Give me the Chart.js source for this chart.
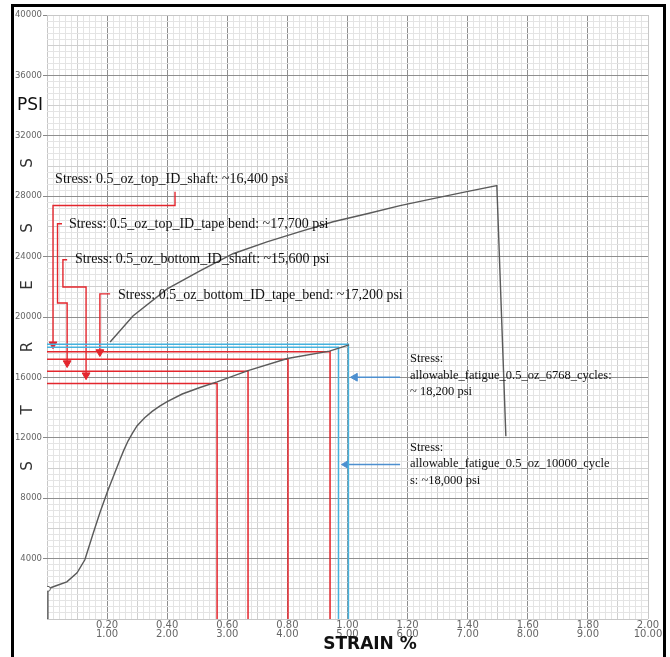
<!DOCTYPE html>
<html>
<head>
<meta charset="utf-8">
<script src="https://cdn.jsdelivr.net/npm/chart.js@4.4.0/dist/chart.umd.min.js"></script>
<style>
    html, body { margin: 0; padding: 0; background: #fff; }
    canvas { display: block; }
</style>
</head>
<body>
<canvas id="chart" width="670" height="657"></canvas>
<script>
// first pass of the trace (bottom curve)
const lowerStrain = [0, 0.003, 0.03, 0.066, 0.10, 0.126, 0.154, 0.176, 0.20, 0.226, 0.243, 0.255, 0.27, 0.285, 0.30, 0.325, 0.35, 0.375, 0.40, 0.45, 0.509, 0.566, 0.669, 0.80, 0.94, 1.005];
const lowerStress = [0, 2000, 2200, 2460, 3060, 3920, 5700, 7040, 8370, 9700, 10560, 11150, 11800, 12330, 12800, 13330, 13750, 14100, 14400, 14900, 15330, 15700, 16450, 17250, 17740, 18150];

// second pass of the trace, ending with the break
const upperStrain = [0.21, 0.286, 0.40, 0.509, 0.619, 0.732, 0.842, 0.952, 1.065, 1.175, 1.285, 1.397, 1.497, 1.527];
const upperStress = [18340, 20070, 21860, 23060, 24190, 24980, 25650, 26310, 26840, 27380, 27840, 28300, 28700, 12100];

// tick labels
const strainTopLabels = ["0.20", "0.40", "0.60", "0.80", "1.00", "1.20", "1.40", "1.60", "1.80", "2.00"];
const strainBottomLabels = ["1.00", "2.00", "3.00", "4.00", "5.00", "6.00", "7.00", "8.00", "9.00", "10.00"];
const stressLabels = ["4000", "8000", "12000", "16000", "20000", "24000", "28000", "32000", "36000", "40000"];

// red read-offs (stress level, strain where it meets the curve)
const redLabels = [
    "Stress: 0.5_oz_top_ID_shaft: ~16,400 psi",
    "Stress: 0.5_oz_top_ID_tape bend: ~17,700 psi",
    "Stress: 0.5_oz_bottom_ID_shaft: ~15,600 psi",
    "Stress: 0.5_oz_bottom_ID_tape_bend: ~17,200 psi",
];
const redStress = [16400, 17700, 15600, 17200];
const redStrain = [0.669, 0.942, 0.566, 0.802];

// blue fatigue limits
const blueLabels = [
    ["Stress:", "allowable_fatigue_0.5_oz_6768_cycles:", "~ 18,200 psi"],
    ["Stress:", "allowable_fatigue_0.5_oz_10000_cycle", "s: ~18,000 psi"],
];
const blueStress = [18200, 18000];
const blueStrain = [1.003, 0.97];

// callout paths in chart units (strain, psi); last point carries the arrow head
const redCallouts = [
    [[0.426, 28300], [0.426, 27380], [0.020, 27380], [0.020, 18200]],
    [[0.050, 26180], [0.035, 26180], [0.035, 20930], [0.067, 20930], [0.067, 16950]],
    [[0.067, 23790], [0.053, 23790], [0.053, 21990], [0.130, 21990], [0.130, 16150]],
    [[0.210, 21530], [0.176, 21530], [0.176, 17680]],
];
const redLabelAt = [[0.027, 29100], [0.073, 26110], [0.093, 23790], [0.236, 21460]];
const blueCallouts = [
    [[1.175, 16010], [1.025, 16010]],
    [[1.175, 10230], [0.995, 10230]],
];
const blueLabelAt = [[1.208, 17210], [1.208, 11360]];

const RED = "#e3262d";
const BLUE = "#45b2de";
const BLUE_ARROW = "#4d8fcf";
const CURVE = "#5a5a5a";

const toPoints = (xs, ys) => xs.map((x, i) => ({ x: x, y: ys[i] }));
const pathPoints = (p) => p.map(([x, y]) => ({ x: x, y: y }));

const datasets = [];

datasets.push({
    data: toPoints(lowerStrain, lowerStress),
    borderColor: CURVE,
    borderWidth: 1.4,
    pointRadius: (c) => (c.dataIndex === 1 ? 2.5 : 0),
    pointBorderColor: CURVE,
    pointBackgroundColor: "#fff",
    pointBorderWidth: 1,
    order: 0,
});
datasets.push({
    data: toPoints(upperStrain, upperStress),
    borderColor: CURVE,
    borderWidth: 1.4,
    pointRadius: 0,
    order: 0,
});

redStress.forEach((s, i) => {
    datasets.push({
        data: [{ x: 0, y: s }, { x: redStrain[i], y: s }, { x: redStrain[i], y: 0 }],
        borderColor: RED,
        borderWidth: 1.5,
        pointRadius: 0,
        order: 2,
    });
});
blueStress.forEach((s, i) => {
    datasets.push({
        data: [{ x: 0, y: s }, { x: blueStrain[i], y: s }, { x: blueStrain[i], y: 0 }],
        borderColor: BLUE,
        borderWidth: 1.5,
        pointRadius: 0,
        order: 1,
    });
});

function arrowSet(path, color, rotation) {
    const n = path.length;
    return {
        data: pathPoints(path),
        borderColor: color,
        borderWidth: 1.4,
        pointStyle: "triangle",
        pointRotation: rotation,
        pointRadius: (c) => (c.dataIndex === n - 1 ? 4.5 : 0),
        pointBackgroundColor: color,
        pointBorderColor: color,
        pointBorderWidth: 1,
        order: 3,
    };
}
redCallouts.forEach((p) => datasets.push(arrowSet(p, RED, 180)));
blueCallouts.forEach((p) => datasets.push(arrowSet(p, BLUE_ARROW, 270)));

function gridColor(c) {
    const i = c.index;
    if (i === 0 || i === 100) return "#c8c8c8";
    if (i % 10 === 0) return "#8e8e8e";
    if (i % 5 === 0) return "#cfcfcf";
    return "#e4e4e4";
}

const textPlugin = {
    id: "texts",
    afterDatasetsDraw(chart) {
        const { ctx, scales } = chart;
        const px = (v) => scales.x.getPixelForValue(v);
        const py = (v) => scales.y.getPixelForValue(v);
        ctx.save();
        ctx.fillStyle = "#111";
        ctx.textAlign = "left";
        ctx.textBaseline = "middle";
        ctx.font = '14px "Liberation Serif"';
        redLabels.forEach((t, i) => {
            ctx.fillText(t, px(redLabelAt[i][0]), py(redLabelAt[i][1]));
        });
        ctx.font = '12.5px "Liberation Serif"';
        blueLabels.forEach((lines, i) => {
            const x = px(blueLabelAt[i][0]);
            const y0 = py(blueLabelAt[i][1]);
            lines.forEach((t, k) => ctx.fillText(t, x, y0 + k * 16.5));
        });
        ctx.restore();
    },
    afterDraw(chart) {
        const { ctx } = chart;
        ctx.save();
        // axis titles
        ctx.fillStyle = "#111";
        ctx.textAlign = "center";
        ctx.textBaseline = "middle";
        ctx.font = '17px "DejaVu Sans"';
        ctx.fillText("PSI", 30, 106);
        ctx.font = 'bold 17px "DejaVu Sans"';
        ctx.fillText("STRAIN %", 370, 645);
        ctx.fillStyle = "#333";
        ctx.font = '15px "DejaVu Sans"';
        const letters = ["S", "T", "R", "E", "S", "S"];
        const ys = [466, 410, 347, 285, 228, 163];
        letters.forEach((l, i) => {
            ctx.save();
            ctx.translate(28, ys[i]);
            ctx.rotate(-Math.PI / 2);
            ctx.fillText(l, 0, 0);
            ctx.restore();
        });
        // frame
        ctx.fillStyle = "#000";
        ctx.fillRect(11, 4, 3, chart.height - 4);
        ctx.fillRect(11, 4, 655, 3);
        ctx.fillRect(663, 4, 3, chart.height - 4);
        ctx.restore();
    },
};

new Chart(document.getElementById("chart"), {
    type: "scatter",
    data: { datasets: datasets },
    options: {
        responsive: false,
        animation: false,
        showLine: true,
        layout: { padding: { top: 15, right: 22, left: 0, bottom: 0 } },
        plugins: { legend: { display: false }, tooltip: { enabled: false } },
        elements: { line: { tension: 0 } },
        scales: {
            x: {
                type: "linear",
                min: 0,
                max: 2,
                afterBuildTicks: (s) => {
                    s.ticks = [];
                    for (let i = 0; i <= 100; i++) s.ticks.push({ value: i * 0.02 });
                },
                afterFit: (s) => { s.height = 38; },
                border: { display: false },
                grid: { color: gridColor, lineWidth: 1, drawTicks: false },
                ticks: {
                    autoSkip: false,
                    maxRotation: 0,
                    padding: 2,
                    color: "#666",
                    font: { family: "DejaVu Sans", size: 10, lineHeight: 0.9 },
                    callback: (v, i) => (i % 10 === 0 && i > 0 ? [strainTopLabels[i / 10 - 1], strainBottomLabels[i / 10 - 1]] : ""),
                },
            },
            y: {
                type: "linear",
                min: 0,
                max: 40000,
                afterBuildTicks: (s) => {
                    s.ticks = [];
                    for (let i = 0; i <= 100; i++) s.ticks.push({ value: i * 400 });
                },
                afterFit: (s) => { s.width = 47; },
                border: { display: false },
                grid: {
                    color: gridColor,
                    lineWidth: 1,
                    tickLength: 4,
                    tickColor: (c) => (c.index % 10 === 0 && c.index > 0 ? "#888" : "rgba(0,0,0,0)"),
                },
                ticks: {
                    autoSkip: false,
                    padding: 1,
                    color: "#666",
                    font: { family: "DejaVu Sans", size: 8.5 },
                    callback: (v, i) => (i % 10 === 0 && i > 0 ? stressLabels[i / 10 - 1] : ""),
                },
            },
        },
    },
    plugins: [textPlugin],
});
</script>
</body>
</html>
